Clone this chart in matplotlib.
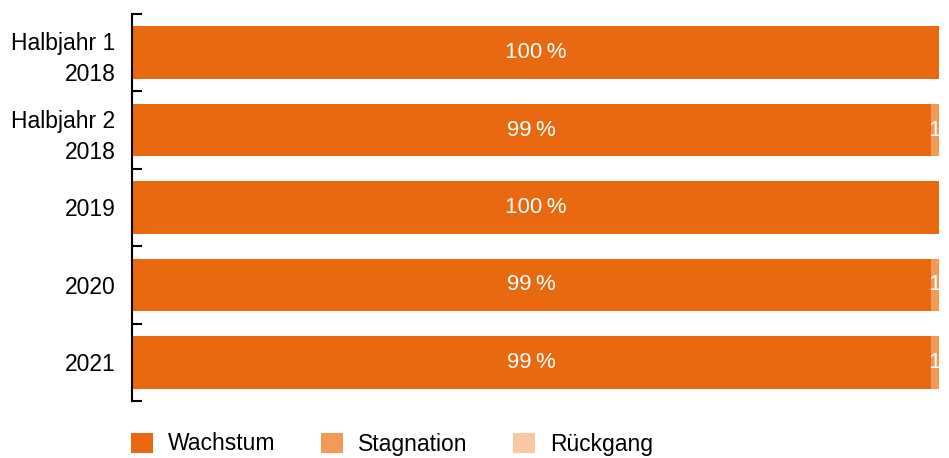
import numpy as np
import matplotlib.pyplot as plt

plt.rcParams['font.family'] = ['Liberation Sans', 'DejaVu Sans']

categories = ["Halbjahr 1\n2018", "Halbjahr 2\n2018", "2019", "2020", "2021"]
wachstum = [100, 99, 100, 99, 99]
stagnation = [0, 1, 0, 1, 1]
rueckgang = [0, 0, 0, 0, 0]

colors = ["#E8690F", "#F39A57", "#F9C8A0"]
names = ["Wachstum", "Stagnation", "Rückgang"]

fig = plt.figure(figsize=(9.49, 4.58), dpi=100)
ax = fig.add_axes([132 / 949, 1 - 401 / 458, 807 / 949, 387 / 458])

y = np.arange(len(categories))
left = np.zeros(len(categories))
handles = []
for vals, c, name in zip([wachstum, stagnation, rueckgang], colors, names):
    vals = np.array(vals, dtype=float)
    h = ax.barh(y, vals, left=left, height=0.68, color=c, label=name)
    handles.append(h)
    for yi, v, l in zip(y, vals, left):
        if v <= 0:
            continue
        txt = f"{v:.0f}\u2009%" if v >= 5 else f"{v:.0f}"
        ax.text(l + v / 2, yi, txt, ha="center", va="center",
                color="white", fontsize=16)
    left += vals

ax.set_xlim(0, 100)
ax.set_ylim(len(categories) - 0.5, -0.5)
ax.set_xticks([])
ax.set_yticks(y)
ax.set_yticklabels(categories, fontsize=16.5, ha="right", linespacing=1.45)
ax.tick_params(axis="y", length=0, pad=12)
ax.set_yticks(np.arange(-0.5, len(categories), 1), minor=True)
ax.tick_params(axis="y", which="minor", direction="in", length=7, width=1.5)
for s in ["top", "right", "bottom"]:
    ax.spines[s].set_visible(False)
ax.spines["left"].set_linewidth(1.5)

fig.legend(handles=handles, loc="center left",
           bbox_to_anchor=(131 / 949, 1 - 444 / 458),
           ncol=3, frameon=False, fontsize=16.5, borderpad=0, borderaxespad=0,
           handlelength=0.96, handleheight=0.96, handletextpad=0.65,
           columnspacing=2.0)

fig.savefig("out.png", dpi=100)
